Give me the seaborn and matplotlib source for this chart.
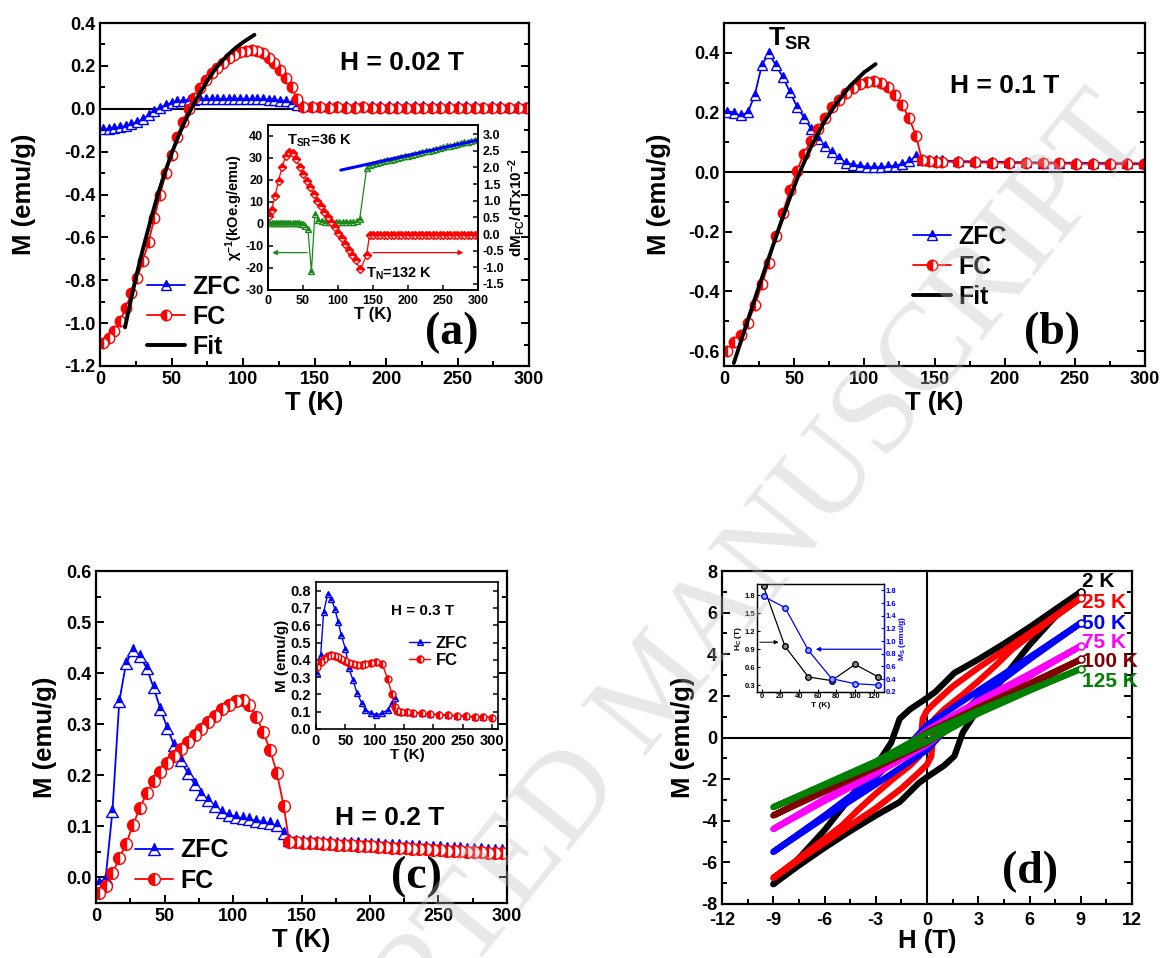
import matplotlib.pyplot as plt
import seaborn as sns
from matplotlib.ticker import MultipleLocator

# ---------------- (a) H = 0.02 T ----------------
a_T = [2, 6, 10, 14, 18, 22, 26, 30, 34, 38, 42, 46, 50, 54, 58, 62, 66, 70, 74, 78,
       82, 86, 90, 94, 98, 102, 106, 110, 114, 118, 122, 126, 130, 134, 138, 142,
       148, 154, 160, 166, 172, 178, 184, 190, 196, 202, 208, 214, 220, 226, 232, 238,
       244, 250, 256, 262, 268, 274, 280, 286, 292, 298]
a_fc = [-1.095, -1.07, -1.035, -0.99, -0.93, -0.86, -0.79, -0.71, -0.62, -0.51, -0.40, -0.30,
        -0.215, -0.13, -0.06, 0.0, 0.05, 0.095, 0.135, 0.165, 0.19, 0.215, 0.235, 0.252,
        0.264, 0.271, 0.274, 0.27, 0.258, 0.238, 0.212, 0.182, 0.145, 0.10, 0.045, 0.008,
        0.006, 0.006, 0.005, 0.006, 0.005, 0.005, 0.006, 0.005, 0.005, 0.005, 0.004, 0.005,
        0.005, 0.004, 0.005, 0.004, 0.004, 0.005, 0.004, 0.004, 0.004, 0.004, 0.003, 0.004,
        0.004, 0.003]
a_zfc = [-0.095, -0.093, -0.09, -0.086, -0.08, -0.072, -0.062, -0.048, -0.03, -0.012, 0.005,
         0.018, 0.028, 0.034, 0.038, 0.041, 0.043, 0.044, 0.045, 0.045, 0.046, 0.046, 0.046,
         0.046, 0.046, 0.046, 0.045, 0.045, 0.044, 0.043, 0.041, 0.038, 0.034, 0.028, 0.018,
         0.012, 0.012, 0.012, 0.012, 0.012, 0.011, 0.012, 0.012, 0.011, 0.012, 0.011, 0.011,
         0.012, 0.011, 0.011, 0.011, 0.011, 0.012, 0.011, 0.011, 0.011, 0.010, 0.011, 0.011,
         0.010, 0.011, 0.010]
a_fit_T = [17.5, 20, 25, 30, 35, 40, 45, 50, 55, 60, 65, 70, 75, 80, 85, 90, 95, 100, 108]
a_fit_M = [-1.02, -0.94, -0.79, -0.655, -0.53, -0.41, -0.305, -0.21, -0.125, -0.05, 0.015,
           0.075, 0.13, 0.18, 0.22, 0.255, 0.285, 0.31, 0.345]

# inset (a): inverse susceptibility (left) and dM_FC/dT (right)
ia_chi_T = [2, 5, 8, 11, 14, 17, 20, 23, 26, 29, 32, 35, 38, 41, 44, 47, 50, 53, 57, 62, 67,
            72, 77, 82, 87, 92, 97, 102, 107, 112, 117, 122, 127, 131, 141,
            145, 150, 155, 160, 165, 170, 175, 180, 185, 190, 195, 200, 205, 210, 215, 220,
            225, 230, 235, 240, 245, 250, 255, 260, 265, 270, 275, 280, 285, 290, 295, 300]
ia_chi = [0.6, 0.6, 0.6, 0.6, 0.6, 0.6, 0.6, 0.6, 0.5, 0.5, 0.5, 0.5, 0.4, 0.4, 0.3, 0.2, 0.0,
          -0.8, -2.2, -21.5, 4.5, 1.8, 1.2, 1.0, 1.0, 0.9, 0.9, 0.9, 1.0, 1.0, 1.0, 1.1, 1.3,
          2.2, 25.5,
          27.0, 27.4, 27.8, 28.1, 28.5, 28.9, 29.3, 29.6, 30.0, 30.4, 30.8, 31.1, 31.5, 31.9,
          32.3, 32.6, 33.0, 33.4, 33.8, 34.1, 34.5, 34.9, 35.3, 35.6, 36.0, 36.4, 36.8, 37.1,
          37.5, 37.9, 38.3, 38.7]
ia_dm_T = [2, 5, 10, 15, 20, 25, 30, 35, 40, 45, 50, 55, 60, 65, 70, 75, 80, 85, 90, 95, 100,
           105, 110, 115, 120, 125, 132, 141,
           145, 150, 155, 160, 165, 170, 175, 180, 185, 190, 195, 200, 205, 210, 215, 220,
           225, 230, 235, 240, 245, 250, 255, 260, 265, 270, 275, 280, 285, 290, 295, 300]
ia_dm = [0.54, 0.73, 1.13, 1.6, 2.0, 2.33, 2.46, 2.43, 2.26, 2.0, 1.8, 1.6, 1.4, 1.2, 1.0, 0.84,
         0.67, 0.52, 0.37, 0.2, 0.02, -0.13, -0.30, -0.48, -0.63, -0.79, -1.06, -0.63,
         -0.02, -0.02, -0.02, -0.02, -0.02, -0.02, -0.02, -0.02, -0.02, -0.02, -0.02, -0.02,
         -0.02, -0.02, -0.02, -0.02, -0.02, -0.02, -0.02, -0.02, -0.02, -0.02, -0.02, -0.02,
         -0.02, -0.02, -0.02, -0.02, -0.02, -0.02, -0.02, -0.02]
ia_cw_T = [104, 298]
ia_cw = [24.5, 38.0]

# ---------------- (b) H = 0.1 T ----------------
b_T = [2, 7, 12, 17, 22, 27, 32, 37, 42, 47, 52, 57, 62, 67, 72, 77, 82, 87, 92, 97, 102, 107,
       112, 117, 122, 127, 132, 137, 141, 146, 151, 155, 167, 179, 191, 203, 215, 227, 239,
       251, 263, 275, 287, 299]
b_zfc = [0.202, 0.197, 0.19, 0.2, 0.26, 0.36, 0.398, 0.358, 0.318, 0.268, 0.22, 0.183, 0.146,
         0.11, 0.087, 0.066, 0.046, 0.032, 0.025, 0.021, 0.018, 0.016, 0.017, 0.019, 0.022,
         0.027, 0.036, 0.055, 0.041, 0.040, 0.039, 0.039, 0.037, 0.036, 0.035, 0.034, 0.033,
         0.032, 0.032, 0.031, 0.031, 0.030, 0.030, 0.029]
b_fc = [-0.60, -0.57, -0.545, -0.505, -0.447, -0.376, -0.303, -0.214, -0.136, -0.06, 0.005,
        0.062, 0.105, 0.146, 0.183, 0.217, 0.243, 0.266, 0.283, 0.295, 0.303, 0.305, 0.298,
        0.285, 0.26, 0.225, 0.18, 0.12, 0.04, 0.036, 0.035, 0.035, 0.034, 0.033, 0.032, 0.031,
        0.030, 0.029, 0.029, 0.028, 0.028, 0.027, 0.027, 0.026]
b_fit_T = [7, 15, 23, 31, 39, 47, 54, 62, 71, 80, 90, 100, 108]
b_fit_M = [-0.64, -0.525, -0.41, -0.30, -0.19, -0.085, 0.0, 0.085, 0.165, 0.23, 0.29, 0.335, 0.362]

# ---------------- (c) H = 0.2 T ----------------
c_T = [2, 7, 12, 17, 22, 27, 32, 37, 42, 47, 52, 57, 62, 67, 72, 77, 82, 87, 92, 97, 102, 107,
       112, 117, 122, 127, 132, 137, 141,
       146, 151, 156, 161, 166, 171, 176, 181, 186, 191, 196, 201, 206, 211, 216, 221, 226,
       231, 236, 241, 246, 251, 256, 261, 266, 271, 276, 281, 286, 291, 296]
c_zfc = [-0.011, -0.002, 0.13, 0.345, 0.42, 0.445, 0.434, 0.41, 0.372, 0.33, 0.293, 0.259,
         0.229, 0.204, 0.183, 0.164, 0.151, 0.139, 0.129, 0.123, 0.119, 0.116, 0.114, 0.111,
         0.109, 0.106, 0.102, 0.087, 0.074,
         0.072, 0.071, 0.071, 0.070, 0.070, 0.069, 0.068, 0.068, 0.067, 0.067, 0.066, 0.065,
         0.065, 0.064, 0.063, 0.063, 0.062, 0.061, 0.061, 0.060, 0.059, 0.059, 0.058, 0.057,
         0.057, 0.056, 0.055, 0.055, 0.054, 0.053, 0.053]
c_fc = [-0.03, -0.016, 0.008, 0.038, 0.066, 0.103, 0.136, 0.165, 0.188, 0.207, 0.224, 0.238,
        0.252, 0.266, 0.278, 0.291, 0.304, 0.317, 0.329, 0.338, 0.346, 0.348, 0.337, 0.315,
        0.285, 0.25, 0.205, 0.14, 0.07,
        0.069, 0.068, 0.067, 0.067, 0.066, 0.065, 0.064, 0.064, 0.063, 0.062, 0.061, 0.061,
        0.060, 0.059, 0.058, 0.058, 0.057, 0.056, 0.055, 0.055, 0.054, 0.053, 0.052, 0.052,
        0.051, 0.050, 0.049, 0.049, 0.048, 0.047, 0.047]

# inset (c): H = 0.3 T
ic_T = [2, 8, 13, 20, 26, 32, 38, 43, 50, 56, 63, 70, 78, 84, 94, 103, 113, 122, 129, 134,
        138, 145, 155, 165, 180, 195, 210, 225, 240, 255, 270, 285, 300]
ic_zfc = [0.325, 0.427, 0.676, 0.781, 0.752, 0.695, 0.618, 0.542, 0.465, 0.35, 0.283, 0.207,
          0.149, 0.111, 0.092, 0.082, 0.092, 0.111, 0.149, 0.178, 0.111, 0.1, 0.098, 0.095,
          0.09, 0.087, 0.084, 0.08, 0.077, 0.074, 0.071, 0.069, 0.067]
ic_fc = [0.36, 0.389, 0.405, 0.42, 0.427, 0.425, 0.415, 0.405, 0.393, 0.383, 0.375, 0.37, 0.37,
         0.373, 0.383, 0.389, 0.375, 0.29, 0.205, 0.13, 0.104, 0.1, 0.098, 0.095, 0.09, 0.086,
         0.082, 0.079, 0.076, 0.073, 0.07, 0.068, 0.066]

# ---------------- (d) M-H loops ----------------
h_2K = [9, 7.5, 6, 4.5, 3, 1.6, 0.5, 0, -1.0, -1.6, -2.1, -2.7, -3.5, -4.5, -6, -7.5, -9,
        -7.5, -6, -4.5, -3, -1.6, -0.5, 0, 1.0, 1.6, 2.1, 2.7, 3.5, 4.5, 6, 7.5, 9]
m_2K = [7.0, 6.15, 5.3, 4.5, 3.75, 3.1, 2.2, 1.9, 1.35, 0.9, -0.25, -1.0, -1.75, -2.9, -4.45,
        -5.8, -7.05, -6.15, -5.3, -4.5, -3.75, -3.1, -2.2, -1.9, -1.35, -0.9, 0.25, 1.0, 1.75,
        2.9, 4.45, 5.8, 7.0]
h_25K = [9, 7, 5, 3, 1.5, 0.5, 0, -0.25, -0.45, -1, -2, -3, -4, -5, -7, -9,
         -7, -5, -3, -1.5, -0.5, 0, 0.25, 0.45, 1, 2, 3, 4, 5, 7, 9]
m_25K = [6.7, 5.55, 4.45, 3.35, 2.45, 1.7, 1.3, 0.9, -0.9, -1.35, -2.0, -2.7, -3.45, -4.25,
         -5.5, -6.75, -5.6, -4.5, -3.4, -2.45, -1.7, -1.3, -0.9, 0.9, 1.35, 2.0, 2.7, 3.45,
         4.25, 5.5, 6.7]
h_50K = [9, 6, 3, 1, 0, -1, -3, -6, -9, -6, -3, -1, 0, 1, 3, 6, 9]
m_50K = [5.5, 3.85, 2.25, 1.15, 0.6, -0.3, -1.9, -3.75, -5.5, -3.85, -2.25, -1.15, -0.6, 0.3,
         1.9, 3.75, 5.5]
h_75K = [9, 6, 3, 0, -3, -6, -9, -6, -3, 0, 3, 6, 9]
m_75K = [4.4, 3.05, 1.75, 0.35, -1.55, -2.95, -4.4, -3.05, -1.75, -0.35, 1.55, 2.95, 4.4]
h_100K = [9, 6, 3, 0, -3, -6, -9, -6, -3, 0, 3, 6, 9]
m_100K = [3.75, 2.6, 1.45, 0.25, -1.3, -2.5, -3.75, -2.6, -1.45, -0.25, 1.3, 2.5, 3.75]
h_125K = [9, 6, 3, 0, -3, -6, -9, -6, -3, 0, 3, 6, 9]
m_125K = [3.3, 2.3, 1.3, 0.2, -1.15, -2.25, -3.35, -2.3, -1.3, -0.2, 1.15, 2.25, 3.3]
loop_labels = ["2 K", "25 K", "50 K", "75 K", "100 K", "125 K"]
loop_colors = ["#000000", "#ff0000", "#0000ff", "#ff00ff", "#800000", "#008000"]
loop_label_M = [7.5, 6.5, 5.5, 4.55, 3.65, 2.7]

# inset (d): coercive field and saturation magnetisation
id_T = [2, 25, 50, 75, 100, 125]
id_hc = [1.95, 0.95, 0.44, 0.38, 0.65, 0.44]
id_ms = [1.705, 1.527, 0.853, 0.405, 0.326, 0.305]

# ---------------- style ----------------
sns.set_theme(style="ticks")
plt.rcParams.update({
    "font.family": ["Liberation Sans", "DejaVu Sans"],
    "font.weight": "bold",
    "axes.labelweight": "bold",
    "axes.edgecolor": "black",
    "axes.labelcolor": "black",
    "axes.unicode_minus": False,
    "text.color": "black",
    "xtick.color": "black",
    "ytick.color": "black",
    "mathtext.fontset": "custom",
    "mathtext.rm": "Liberation Sans:bold",
    "mathtext.it": "Liberation Sans:bold",
    "mathtext.bf": "Liberation Sans:bold",
    "mathtext.default": "regular",
})

W, H = 1166, 958
fig = plt.figure(figsize=(W / 100, H / 100), dpi=100)


def box(l, t, r, b):
    return [l / W, 1 - b / H, (r - l) / W, (b - t) / H]


ax_a = fig.add_axes(box(100, 23, 529, 366))
ax_b = fig.add_axes(box(724, 23, 1145, 366))
ax_c = fig.add_axes(box(96, 571, 507, 903))
ax_d = fig.add_axes(box(722, 571, 1132, 904))
in_a = fig.add_axes(box(268, 125, 478, 290))
in_c = fig.add_axes(box(316, 582, 498, 729))
in_d = fig.add_axes(box(757, 584, 884, 692))

BLUE, RED, GREEN = "#0000ff", "#ff0000", "#1a8a1a"


def draw(ax, x, y, color, marker=None, fill="full", ms=6, lw=1.3, label=None, z=2, mfc=None):
    kw = dict(x=x, y=y, ax=ax, color=color, lw=lw, sort=False, estimator=None,
              legend=False, label=label, zorder=z)
    if marker:
        kw.update(marker=marker, markersize=ms, fillstyle=fill, markeredgecolor=color,
                  markerfacecolor=mfc or color, markerfacecoloralt="white",
                  markeredgewidth=1.0)
    sns.lineplot(**kw)
    return ax.lines[-1]


def frame(ax, size, spine=1.6, major=6, minor=3.5, right=True):
    ax.tick_params(which="both", direction="in", top=False, right=right,
                   labelsize=size, width=spine * 0.9)
    ax.tick_params(which="major", length=major)
    ax.tick_params(which="minor", length=minor)
    for s in ax.spines.values():
        s.set_linewidth(spine)
        s.set_color("black")


def panel_letter(ax, x, y, s):
    ax.text(x, y, s, transform=ax.transAxes, ha="center", va="center",
            family="Liberation Serif", fontweight="bold", fontsize=33)


LEG = dict(frameon=False, handlelength=1.5, handletextpad=0.3, labelspacing=0.25,
           borderpad=0, borderaxespad=0, loc="center left",
           prop={"weight": "bold", "size": 18})

# ---------- (a) ----------
ax_a.axhline(0, color="black", lw=1.5, zorder=1)
l1 = draw(ax_a, a_T, a_zfc, BLUE, "^", "top", 7, label="ZFC")
l2 = draw(ax_a, a_T, a_fc, RED, "o", "left", 7.5, label="FC")
l3 = draw(ax_a, a_fit_T, a_fit_M, "black", lw=2.8, label="Fit", z=3)
ax_a.set_xlim(0, 300)
ax_a.set_ylim(-1.2, 0.4)
ax_a.xaxis.set_major_locator(MultipleLocator(50))
ax_a.xaxis.set_minor_locator(MultipleLocator(25))
ax_a.yaxis.set_major_locator(MultipleLocator(0.2))
ax_a.yaxis.set_minor_locator(MultipleLocator(0.1))
ax_a.yaxis.set_major_formatter(lambda v, p: f"{v:.1f}")
frame(ax_a, 13)
ax_a.set_xlabel("T (K)", fontsize=18.5, labelpad=2)
ax_a.set_ylabel("M (emu/g)", fontsize=18.5, labelpad=20)
ax_a.text(211, 0.214, "H = 0.02 T", ha="center", va="center", fontsize=19)
ax_a.legend(handles=[l1, l2, l3], bbox_to_anchor=(0.11, 0.143), **LEG)
panel_letter(ax_a, 0.82, 0.096, "(a)")

# inset (a)
in_a_r = in_a.twinx()
draw(in_a, ia_cw_T, ia_cw, BLUE, lw=2.2, z=4)
draw(in_a, ia_chi_T, ia_chi, GREEN, "^", "top", 4.5, lw=0.9, z=3)
draw(in_a_r, ia_dm_T, ia_dm, RED, "D", "top", 4.2, lw=0.9)
in_a.annotate("", xy=(2, -13), xytext=(60, -13),
              arrowprops=dict(arrowstyle="-|>", color=GREEN, lw=0.9, mutation_scale=7))
in_a.annotate("", xy=(283, -13), xytext=(146, -13),
              arrowprops=dict(arrowstyle="-|>", color=RED, lw=0.9, mutation_scale=7))
in_a.set_xlim(0, 300)
in_a.set_ylim(-30, 45)
in_a_r.set_ylim(-1.68, 3.27)
in_a.xaxis.set_major_locator(MultipleLocator(50))
in_a.yaxis.set_major_locator(MultipleLocator(10))
in_a_r.yaxis.set_major_locator(MultipleLocator(0.5))
in_a_r.yaxis.set_major_formatter(lambda v, p: f"{v:.1f}")
frame(in_a, 9, spine=1.2, major=3.5, right=False)
frame(in_a_r, 9, spine=1.2, major=3.5)
in_a_r.tick_params(which="both", left=False, right=True, labelright=True, labelleft=False)
in_a.set_xlabel("T (K)", fontsize=12, labelpad=0)
in_a.set_ylabel("χ$^{-1}$(kOe.g/emu)", fontsize=10.5, labelpad=0)
in_a_r.set_ylabel("dM$_{FC}$/dTx10$^{-2}$", fontsize=11, labelpad=1)
in_a.text(27, 38, "T$_{SR}$=36 K", fontsize=10.5, va="center", ha="left")
in_a.text(140, -22.5, "T$_N$=132 K", fontsize=10.5, va="center", ha="left")

# ---------- (b) ----------
ax_b.axhline(0, color="black", lw=1.5, zorder=1)
k1 = draw(ax_b, b_T, b_zfc, BLUE, "^", "top", 7, label="ZFC")
k2 = draw(ax_b, b_T, b_fc, RED, "o", "left", 7.5, label="FC")
k3 = draw(ax_b, b_fit_T, b_fit_M, "black", lw=2.8, label="Fit", z=3)
ax_b.set_xlim(0, 300)
ax_b.set_ylim(-0.65, 0.5)
ax_b.xaxis.set_major_locator(MultipleLocator(50))
ax_b.xaxis.set_minor_locator(MultipleLocator(25))
ax_b.yaxis.set_major_locator(MultipleLocator(0.2))
ax_b.yaxis.set_minor_locator(MultipleLocator(0.1))
ax_b.yaxis.set_major_formatter(lambda v, p: f"{v:.1f}")
frame(ax_b, 13)
ax_b.set_xlabel("T (K)", fontsize=18.5, labelpad=2)
ax_b.set_ylabel("M (emu/g)", fontsize=18.5, labelpad=12)
ax_b.text(200, 0.29, "H = 0.1 T", ha="center", va="center", fontsize=19)
ax_b.text(31, 0.446, "T$_{SR}$", ha="left", va="center", fontsize=19)
ax_b.legend(handles=[k1, k2, k3], bbox_to_anchor=(0.449, 0.289), **LEG)
panel_letter(ax_b, 0.78, 0.096, "(b)")

# ---------- (c) ----------
j1 = draw(ax_c, c_T, c_zfc, BLUE, "^", "top", 8, label="ZFC")
j2 = draw(ax_c, c_T, c_fc, RED, "o", "left", 8.5, label="FC")
ax_c.set_xlim(0, 300)
ax_c.set_ylim(-0.05, 0.6)
ax_c.xaxis.set_major_locator(MultipleLocator(50))
ax_c.xaxis.set_minor_locator(MultipleLocator(25))
ax_c.yaxis.set_major_locator(MultipleLocator(0.1))
ax_c.yaxis.set_minor_locator(MultipleLocator(0.05))
ax_c.yaxis.set_major_formatter(lambda v, p: f"{v:.1f}")
frame(ax_c, 13)
ax_c.set_xlabel("T (K)", fontsize=18.5, labelpad=2)
ax_c.set_ylabel("M (emu/g)", fontsize=18.5, labelpad=6)
ax_c.text(214, 0.116, "H = 0.2 T", ha="center", va="center", fontsize=19)
ax_c.legend(handles=[j1, j2], bbox_to_anchor=(0.095, 0.113), **LEG)
panel_letter(ax_c, 0.779, 0.078, "(c)")

# inset (c)
i1 = draw(in_c, ic_T, ic_zfc, BLUE, "^", "top", 5, lw=1.0, label="ZFC")
i2 = draw(in_c, ic_T, ic_fc, RED, "o", "left", 5, lw=1.0, label="FC")
in_c.set_xlim(0, 310)
in_c.set_ylim(0, 0.85)
in_c.xaxis.set_major_locator(MultipleLocator(50))
in_c.yaxis.set_major_locator(MultipleLocator(0.1))
in_c.yaxis.set_major_formatter(lambda v, p: f"{v:.1f}")
frame(in_c, 10.5, spine=1.2, major=3.5)
in_c.set_xlabel("T (K)", fontsize=11, labelpad=0)
in_c.set_ylabel("M (emu/g)", fontsize=11, labelpad=1)
in_c.text(181, 0.68, "H = 0.3 T", ha="center", va="center", fontsize=11)
in_c.legend(handles=[i1, i2], frameon=False, handlelength=1.3, handletextpad=0.3,
            labelspacing=0.15, borderpad=0, borderaxespad=0, loc="center left",
            bbox_to_anchor=(0.51, 0.524), prop={"weight": "bold", "size": 12})

# ---------- (d) ----------
ax_d.axhline(0, color="black", lw=1.5, zorder=1)
ax_d.axvline(0, color="black", lw=1.5, zorder=1)
loops = [(h_2K, m_2K), (h_25K, m_25K), (h_50K, m_50K), (h_75K, m_75K),
         (h_100K, m_100K), (h_125K, m_125K)]
for (hh, mm), col, lab, ly in zip(loops, loop_colors, loop_labels, loop_label_M):
    draw(ax_d, hh, mm, col, lw=4.5)
    ax_d.plot(hh[:1], mm[:1], "o", mfc="white", mec=col, ms=5, mew=1.2, zorder=5)
    ax_d.text(9.1, ly, lab, color=col, fontsize=15, ha="left", va="center", clip_on=False)
ax_d.set_xlim(-12, 12)
ax_d.set_ylim(-8, 8)
ax_d.xaxis.set_major_locator(MultipleLocator(3))
ax_d.xaxis.set_minor_locator(MultipleLocator(1.5))
ax_d.yaxis.set_major_locator(MultipleLocator(2))
ax_d.yaxis.set_minor_locator(MultipleLocator(1))
frame(ax_d, 13)
ax_d.tick_params(axis="x", which="major", pad=6)
ax_d.set_xlabel("H (T)", fontsize=18.5, labelpad=0)
ax_d.set_ylabel("M (emu/g)", fontsize=18.5)
panel_letter(ax_d, 0.751, 0.096, "(d)")

# inset (d)
in_d_r = in_d.twinx()
draw(in_d, id_T, id_hc, "black", "o", "full", 4, lw=0.9, mfc="#8c8c8c")
draw(in_d_r, id_T, id_ms, BLUE, "o", "full", 4, lw=0.9, mfc="#8fb0ff")
in_d.annotate("", xy=(21, 1.02), xytext=(-5, 1.02),
              arrowprops=dict(arrowstyle="-|>", color="black", lw=0.7, mutation_scale=6))
in_d_r.annotate("", xy=(55, 0.87), xytext=(131, 0.87),
                arrowprops=dict(arrowstyle="-|>", color=BLUE, lw=0.9, mutation_scale=6))
in_d.set_xlim(-5, 131)
in_d.set_ylim(0.19, 1.99)
in_d_r.set_ylim(0.195, 1.9)
in_d.xaxis.set_major_locator(MultipleLocator(20))
in_d.yaxis.set_major_locator(MultipleLocator(0.3))
in_d_r.yaxis.set_major_locator(MultipleLocator(0.2))
in_d.yaxis.set_major_formatter(lambda v, p: f"{v:.1f}")
in_d_r.yaxis.set_major_formatter(lambda v, p: f"{v:.1f}")
frame(in_d, 5.5, spine=0.9, major=2.5, right=False)
frame(in_d_r, 5.5, spine=0.9, major=2.5)
in_d_r.tick_params(which="both", left=False, right=True, labelright=True, labelleft=False,
                   colors=BLUE, pad=1)
in_d.tick_params(pad=1)
in_d_r.spines["right"].set_color(BLUE)
in_d.set_xlabel("T (K)", fontsize=6, labelpad=1)
in_d.set_ylabel("H$_C$ (T)", fontsize=6, labelpad=1)
in_d_r.set_ylabel("M$_S$ (emu/g)", fontsize=6, color=BLUE, labelpad=1)

# faint diagonal watermark
fig.text(660 / W, 1 - 690 / H, "ACCEPTED MANUSCRIPT", rotation=51, fontsize=90,
         family="Liberation Serif", fontweight="normal", color="#bdbdbd", alpha=0.35,
         ha="center", va="center", rotation_mode="anchor", zorder=10)

fig.savefig("out.png", dpi=100)
